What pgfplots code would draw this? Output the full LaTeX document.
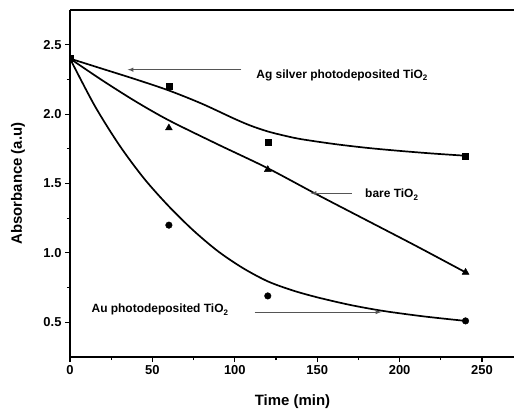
\documentclass[border=0pt]{standalone}
\usepackage{fontspec}
\setmainfont{Liberation Sans}
\usepackage{pgfplots}
\pgfplotsset{compat=1.18}
\definecolor{arrowgray}{HTML}{555555}
\newcommand{\sub}[1]{\raisebox{-0.45ex}{\fontsize{8}{8}\selectfont #1}}
\begin{document}
\begin{tikzpicture}
\begin{axis}[
  at={(0,0)}, anchor=south west,
  scale only axis, width=445bp, height=347bp,
  xmin=0, xmax=270, ymin=0.25, ymax=2.75,
  axis x line*=box, axis y line*=left,
  axis line style={-, line width=1.6bp, black},
  xtick={0,50,...,250}, ytick={0.5,1.0,1.5,2.0,2.5},
  minor x tick num=1, minor y tick num=1,
  tick align=outside, xtick pos=bottom, ytick pos=left,
  major tick length=5bp, minor tick length=3bp,
  every tick/.style={line width=1.1bp, black},
  /pgf/number format/assume math mode=true,
  ticklabel style={font=\fontsize{13}{13}\selectfont\bfseries},
  yticklabel style={/pgf/number format/.cd, fixed, fixed zerofill, precision=1},
  xlabel={Time (min)}, ylabel={Absorbance (a.u)},
  every axis x label/.style={at={(axis description cs:0.5,-0.13)}, anchor=center, font=\fontsize{15}{15}\selectfont\bfseries},
  every axis y label/.style={at={(axis description cs:-0.117,0.5)}, rotate=90, anchor=center, font=\fontsize{15}{15}\selectfont\bfseries},
  clip=true, clip marker paths=true,
]
% fitted curves
\addplot[black, line width=1.7bp, smooth, no marks] coordinates {
  (0,2.40) (20,2.325) (40,2.25) (60,2.17) (80,2.075) (100,1.965) (110,1.915)
  (120,1.875) (130,1.845) (140,1.82) (160,1.785) (180,1.757) (200,1.735) (220,1.716) (240,1.70)};
\addplot[black, line width=1.7bp, smooth, no marks] coordinates {
  (0,2.40) (20,2.24) (40,2.09) (60,1.955) (90,1.78) (120,1.61) (150,1.42)
  (180,1.235) (210,1.05) (240,0.86)};
\addplot[black, line width=1.7bp, smooth, no marks] coordinates {
  (0,2.40) (15,2.06) (30,1.775) (45,1.535) (60,1.335) (75,1.16) (90,1.01)
  (105,0.89) (120,0.795) (135,0.73) (150,0.68) (170,0.625) (190,0.582) (215,0.542) (240,0.51)};
% measured points
\addplot[only marks, mark=square*, mark size=3bp, black] coordinates {
  (0,2.4) (60,2.2) (120,1.8) (240,1.7)};
\addplot[only marks, mark=triangle*, mark size=4bp, black] coordinates {
  (0,2.4) (60,1.9) (120,1.6) (240,0.86)};
\addplot[only marks, mark=*, mark size=3.3bp, black] coordinates {
  (0,2.4) (60,1.2) (120,0.69) (240,0.51)};
% annotations
\draw[arrowgray, line width=1bp, -latex] (axis cs:104,2.32) -- (axis cs:35,2.32);
\node[anchor=west, font=\fontsize{12}{12}\selectfont\bfseries, inner sep=0pt] at (axis cs:113,2.28) {Ag silver photodeposited TiO\sub{2}};
\draw[arrowgray, line width=1bp, -latex] (axis cs:171,1.43) -- (axis cs:146,1.43);
\node[anchor=west, font=\fontsize{12}{12}\selectfont\bfseries, inner sep=0pt] at (axis cs:179,1.42) {bare TiO\sub{2}};
\draw[arrowgray, line width=1bp, -latex] (axis cs:112,0.574) -- (axis cs:189,0.574);
\node[anchor=west, font=\fontsize{12}{12}\selectfont\bfseries, inner sep=0pt] at (axis cs:13,0.59) {Au photodeposited TiO\sub{2}};
\end{axis}
\pgfresetboundingbox
\path[use as bounding box] (-70bp,-56bp) rectangle (444bp,357bp);
\end{tikzpicture}
\end{document}
